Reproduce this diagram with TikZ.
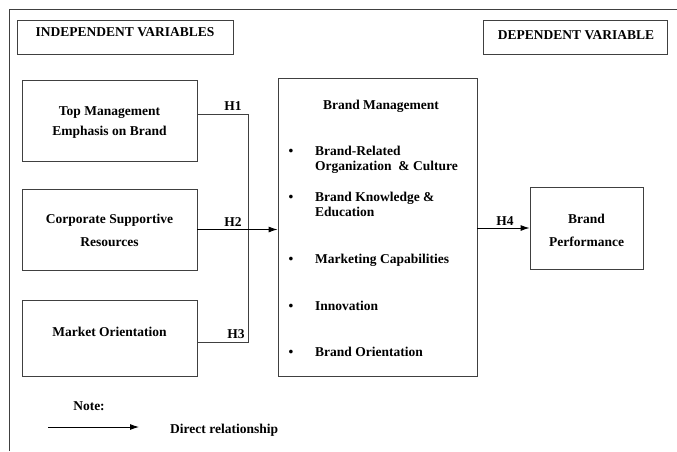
\documentclass[tikz,border=0pt]{standalone}
\usepackage{fontspec}
\setmainfont{Liberation Serif}
\usetikzlibrary{arrows.meta}
\begin{document}
\begin{tikzpicture}[x=1pt,y=-1pt,
  every node/.style={font=\bfseries\fontsize{13.5}{20}\selectfont, text=black},
  box/.style={draw=black!75, line width=0.9pt, inner sep=0pt, align=center},
  txt/.style={inner sep=0pt, anchor=base west},
  ctxt/.style={inner sep=0pt, anchor=base},
  conn/.style={draw=black!75, line width=0.9pt},
  arr/.style={conn, -{Latex[length=9pt,width=6pt]}, draw=black}
]
\useasboundingbox[fill=white] (0,0) rectangle (677,451);
% outer frame (open at right and bottom)
\coordinate (fr) at (9,9);
\draw[conn] (fr |- 0,451) -- (fr) -- (677,9);

% headers
\node[box, minimum width=216pt, minimum height=34pt] (iv) at (125,37) {};
\node[ctxt] (ivt) at (125,36) {INDEPENDENT VARIABLES};
\node[box, minimum width=184pt, minimum height=34pt] (dv) at (575,37) {};
\node[ctxt] (dvt) at (576,39) {DEPENDENT VARIABLE};

% independent variable boxes
\node[box, minimum width=175pt, minimum height=81pt] (tm) at (109.5,120.5) {};
\node[ctxt] (tm1) at (109.5,115) {Top Management};
\node[ctxt] (tm2) at (109.5,135) {Emphasis on Brand};
\node[box, minimum width=175pt, minimum height=81pt] (cs) at (109.5,229.5) {};
\node[ctxt] (cs1) at (109.5,223) {Corporate Supportive};
\node[ctxt] (cs2) at (109.5,246) {Resources};
\node[box, minimum width=175pt, minimum height=76pt] (mo) at (109.5,338) {};
\node[ctxt] (mot) at (109.5,336) {Market Orientation};

% brand management box
\node[box, minimum width=199pt, minimum height=298pt] (bm) at (377.5,227) {};
\node[ctxt] (bmt) at (381,109) {Brand Management};
\foreach \y/\t [count=\i] in {155/Brand-Related, 201/Brand Knowledge \&, 263/Marketing Capabilities, 310/Innovation, 356/Brand Orientation}{
  \node[ctxt] (b\i) at (291,\y) {\textbullet};
  \node[txt] (t\i) at (315,\y) {\t};
}
\node[txt] (t1b) at (315,170) {Organization \ \& Culture};
\node[txt] (t2b) at (315,216) {Education};

% dependent variable box
\node[box, minimum width=113pt, minimum height=82pt] (bp) at (586.5,228) {};
\node[ctxt] (bp1) at (586.5,223) {Brand};
\node[ctxt] (bp2) at (586.5,246) {Performance};

% connectors
\coordinate (j1) at (248,114);
\coordinate (j3) at (248,342);
\draw[conn] (tm.east |- j1) -- (j1) -- (j3) -- (mo.east |- j3);
\draw[arr] (cs.east) -- (bm.west |- cs.east);
\draw[arr] (bm.east |- bp.west) -- (bp.west);
\node[ctxt] (h1) at (233,110) {H1};
\node[ctxt] (h2) at (233,226) {H2};
\node[ctxt] (h3) at (236,338) {H3};
\node[ctxt] (h4) at (505,225) {H4};

% legend
\node[ctxt] (note) at (89,410) {Note:};
\coordinate (la) at (48,427);
\coordinate (lb) at (139,427);
\draw[arr] (la) -- (lb);
\node[txt] (dr) at (170,433) {Direct relationship};
\end{tikzpicture}
\end{document}
